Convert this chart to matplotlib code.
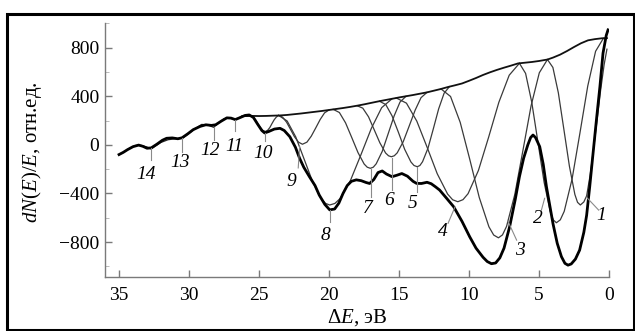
import matplotlib.pyplot as plt
from matplotlib.patches import Rectangle
from matplotlib.ticker import MultipleLocator

plt.rcParams['font.family'] = ['Liberation Serif', 'DejaVu Serif']
plt.rcParams['mathtext.fontset'] = 'custom'
plt.rcParams['mathtext.rm'] = 'Liberation Serif'
plt.rcParams['mathtext.it'] = 'Liberation Serif:italic'

# суммарная кривая (жирная)
total_x = [35.0, 34.7, 34.4, 34.0, 33.6, 33.3, 33.0, 32.7, 32.3, 31.9, 31.6, 31.2, 30.8, 30.5,
           30.1, 29.7, 29.2, 28.8, 28.4, 28.1, 27.7, 27.3, 27.0, 26.7, 26.4, 26.0, 25.7, 25.4,
           25.1, 24.8, 24.6, 24.3, 23.9, 23.5, 23.2, 22.8, 22.4, 22.1, 21.8, 21.4, 21.0, 20.7,
           20.3, 19.95, 19.6, 19.3, 19.0, 18.7, 18.4, 18.05, 17.7, 17.35, 17.1, 16.8, 16.5, 16.2,
           15.9, 15.5, 15.15, 14.8, 14.4, 14.0, 13.75, 13.4, 13.0, 12.7, 12.4, 12.1, 11.6, 11.1,
           10.5, 9.95, 9.5, 9.0, 8.7, 8.4, 8.1, 7.8, 7.5, 7.1, 6.7, 6.4, 6.1, 5.8, 5.6, 5.43,
           5.25, 4.95, 4.7, 4.47, 4.2, 4.0, 3.7, 3.4, 3.15, 2.93, 2.7, 2.4, 2.1, 1.8, 1.6, 1.38,
           1.15, 0.9, 0.65, 0.43, 0.2, 0.07]
total_y = [-80, -62, -40, -15, -2, -12, -28, -25, 5, 38, 54, 57, 50, 58,
           90, 125, 152, 165, 160, 165, 195, 222, 220, 208, 222, 242, 246, 225,
           170, 118, 98, 110, 130, 136, 118, 67, -20, -111, -185, -262, -335, -413,
           -490, -535, -528, -480, -400, -335, -300, -288, -295, -310, -318, -285, -228, -215,
           -240, -262, -250, -236, -258, -300, -317, -318, -308, -320, -345, -372, -440, -509,
           -630, -757, -850, -925, -960, -978, -972, -930, -850, -674, -450, -262, -110, 0, 60, 81,
           60, -15, -160, -345, -520, -650, -810, -920, -975, -990, -980, -940, -866, -720, -580, -345,
           -80, 205, 480, 754, 900, 946]

# огибающая
env_x = [0.15, 0.5, 1.0, 1.5, 2.0, 2.5, 3.0, 3.5, 4.0, 4.4, 5.0, 5.5, 6.0, 6.5, 7.0, 7.5,
         8.0, 8.5, 9.0, 9.5, 10.0, 10.5, 11.0, 11.5, 12.0, 12.5, 13.0, 13.5, 14.0, 14.5,
         15.0, 15.5, 16.0, 16.5, 17.0, 17.5, 18.0, 18.5, 19.0, 19.5, 20.0, 20.5, 21.0, 21.5,
         22.0, 22.5, 23.0, 23.5, 24.0, 24.5, 25.0, 25.5, 26.2]
env_y = [878, 877, 870, 860, 836, 805, 772, 742, 718, 702, 690, 682, 676, 670, 652, 635,
         617, 597, 575, 550, 527, 505, 490, 476, 460, 446, 432, 421, 410, 400,
         390, 379, 368, 357, 345, 333, 322, 312, 303, 295, 287, 279, 272, 265,
         258, 252, 246, 242, 240, 238, 237, 238, 236]

# тонкая кривая в области пиков 11-14
left_x = [35.0, 34.6, 34.2, 33.8, 33.4, 33.0, 32.7, 32.4, 32.0, 31.5, 31.0, 30.47, 30.1,
          29.6, 29.1, 28.7, 28.24, 27.9, 27.5, 27.1, 26.7, 26.2]
left_y = [-80, -55, -25, -5, -5, -18, -34, -10, 20, 42, 50, 54, 85,
          130, 168, 165, 144, 180, 215, 222, 205, 236]

# компоненты 1-10
c1_x = [0.15, 0.35, 0.6, 0.9, 1.1, 1.35, 1.6, 1.8, 2.05, 2.25, 2.44, 2.83, 3.23, 3.62, 4.01, 4.4]
c1_y = [787, 660, 450, 160, -30, -250, -420, -470, -495, -473, -408, -176, 131, 428, 637, 702]
c2_x = [0.4, 0.96, 1.52, 2.08, 2.64, 3.2, 3.48, 3.76, 3.98, 4.2, 4.64, 5.08, 5.52, 5.96, 6.4]
c2_y = [877, 770, 484, 96, -282, -547, -617, -641, -618, -550, -306, 24, 351, 588, 671]
c3_x = [4.4, 4.98, 5.57, 6.15, 6.73, 7.32, 7.61, 7.9, 8.24, 8.58, 9.27, 9.95, 10.63, 11.32, 12.0]
c3_y = [702, 593, 320, -46, -408, -671, -741, -765, -742, -674, -433, -118, 185, 398, 460]
c4_x = [6.4, 7.13, 7.87, 8.6, 9.33, 10.07, 10.43, 10.8, 11.17, 11.53, 12.27, 13.0, 13.73, 14.47, 15.2]
c4_y = [671, 573, 350, 63, -211, -402, -451, -468, -452, -405, -238, -18, 195, 343, 386]
c5_x = [11.4, 11.78, 12.17, 12.55, 12.93, 13.32, 13.51, 13.7, 13.93, 14.15, 14.6, 15.05, 15.5, 15.95, 16.4]
c5_y = [479, 425, 296, 132, -27, -139, -170, -180, -170, -141, -36, 105, 239, 332, 359]
c6_x = [13.0, 13.43, 13.85, 14.28, 14.7, 15.13, 15.34, 15.55, 15.75, 15.96, 16.37, 16.78, 17.18, 17.59, 18.0]
c6_y = [432, 388, 285, 153, 26, -66, -90, -98, -90, -67, 17, 126, 231, 302, 322]
c7_x = [14.5, 14.93, 15.35, 15.78, 16.2, 16.63, 16.84, 17.05, 17.27, 17.49, 17.93, 18.38, 18.82, 19.26, 19.7]
c7_y = [400, 352, 238, 90, -54, -156, -184, -193, -184, -158, -64, 61, 181, 266, 292]
c8_x = [15.5, 16.24, 16.98, 17.73, 18.47, 19.21, 19.58, 19.95, 20.25, 20.56, 21.17, 21.78, 22.38, 22.99, 23.6]
c8_y = [379, 306, 135, -84, -293, -442, -482, -495, -482, -443, -304, -117, 66, 196, 242]
c9_x = [20.0, 20.32, 20.63, 20.95, 21.27, 21.58, 21.9, 22.18, 22.47, 22.75, 23.03, 23.32, 23.6]
c9_y = [287, 263, 209, 139, 71, 22, 5, 22, 67, 127, 186, 228, 242]
c10_x = [23.6, 23.76, 23.92, 24.08, 24.23, 24.39, 24.55, 24.73, 24.9, 25.08, 25.25, 25.43, 25.6]
c10_y = [242, 229, 206, 174, 142, 119, 110, 119, 142, 174, 206, 229, 238]

components = [(c1_x, c1_y), (c2_x, c2_y), (c3_x, c3_y), (c4_x, c4_y), (c5_x, c5_y),
              (c6_x, c6_y), (c7_x, c7_y), (c8_x, c8_y), (c9_x, c9_y), (c10_x, c10_y)]

# подписи: номер, текст (x, y), выноска (x1, y1, x2, y2)
labels = ['1', '2', '3', '4', '5', '6', '7', '8', '9', '10', '11', '12', '13', '14']
label_pos = [(0.55, -578), (5.1, -605), (6.4, -866), (11.85, -715), (14.0, -481),
             (15.7, -462), (17.2, -523), (20.25, -745), (22.7, -303), (24.7, -75),
             (26.8, -10), (28.5, -50), (30.65, -145), (33.05, -240)]
leaders = [(1.6, -432, 0.74, -537), (4.6, -440, 4.83, -537), (7.2, -633, 6.6, -784),
           (11.0, -510, 11.5, -646), (13.75, -180, 13.75, -386), (15.5, -110, 15.5, -374),
           (17.0, -195, 17.0, -427), (19.95, -535, 19.95, -633), (22.1, -15, 22.2, -190),
           (24.6, 100, 24.6, 30), (26.7, 205, 26.7, 110), (28.2, 144, 28.2, 40),
           (30.47, 54, 30.47, -56), (32.7, -28, 32.7, -125)]

fig = plt.figure(figsize=(6.35, 3.31), dpi=100)
ax = fig.add_axes([0.1654, 0.1622, 0.7937, 0.7692])

for cx, cy in components:
    ax.plot(cx, cy, color='#3a3a3a', lw=0.9)
ax.plot(left_x, left_y, color='#2a2a2a', lw=0.9)
ax.plot(env_x, env_y, color='#111111', lw=1.3)
ax.plot(total_x, total_y, color='black', lw=2.0)

for (x1, y1, x2, y2) in leaders:
    ax.plot([x1, x2], [y1, y2], color='#8a8a8a', lw=0.8)
for lab, (tx, ty) in zip(labels, label_pos):
    ax.text(tx, ty, lab, style='italic', fontsize=14, ha='center', va='center')

ax.set_xlim(36, 0)
ax.set_ylim(-1090, 1005)
ax.set_xticks([35, 30, 25, 20, 15, 10, 5, 0])
ax.set_yticks([-800, -400, 0, 400, 800])
ax.set_yticklabels(['\u2212800', '\u2212400', '0', '400', '800'])
ax.yaxis.set_minor_locator(MultipleLocator(200))

for side in ['top', 'right']:
    ax.spines[side].set_visible(False)
for side in ['left', 'bottom']:
    ax.spines[side].set_color('#7a7a7a')
    ax.spines[side].set_linewidth(1.0)

ax.tick_params(axis='both', which='major', direction='in', length=5, color='#7a7a7a',
               labelsize=14, width=1.0)
ax.tick_params(axis='y', which='minor', direction='in', length=3, color='#b0b0b0')
ax.tick_params(axis='x', pad=7)
ax.tick_params(axis='y', pad=4)

ax.set_ylabel('$dN(E)/E$, отн.ед.', fontsize=15)
ax.yaxis.set_label_coords(-0.121, 0.49)
ax.set_xlabel('Δ$E$, эВ', fontsize=15)
ax.xaxis.set_label_coords(0.5, -0.118)

# рамка вокруг рисунка
fig.add_artist(Rectangle((7 / 635, 1 / 331), 627 / 635, 316.5 / 331, transform=fig.transFigure,
                         fill=False, lw=2.2, ec='black'))

plt.savefig('out.png', dpi=100)
plt.close()
